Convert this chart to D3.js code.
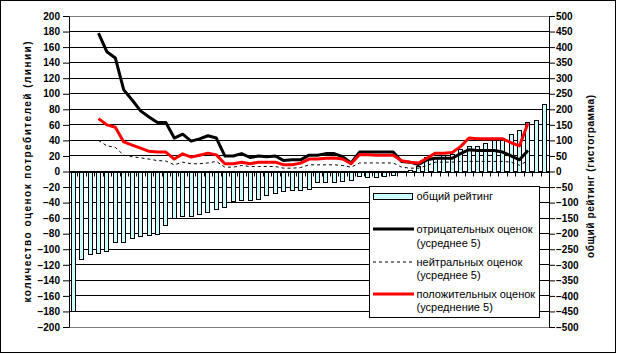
<!DOCTYPE html>
<html>
<head>
<meta charset="utf-8">
<script src="https://cdn.jsdelivr.net/npm/d3@7"></script>
<style>
body { margin: 0; background: #fff; }
text { font-family: "Liberation Sans", Arial, sans-serif; }
</style>
</head>
<body>
<div id="chart"></div>
<script>
// общий рейтинг (правая ось), по каждому объекту
var rejting = [-450, -281, -265, -262, -255, -226, -226, -213, -209, -203, -200, -171, -148, -143, -143, -138,
	-130, -120, -114, -94, -93, -91, -88, -75, -69, -63, -59, -59, -56, -35, -33, -33, -30, -27, -16, -17, -19,
	-15, -11, -3, 4, 19, 47, 42, 54, 57, 72, 81, 83, 91, 102, 102, 121, 134, 160, 166, 218];
// скользящие средние (левая ось)
var otric = [null, null, null, 178, 154, 146, 105, 92, 78, 70, 63, 63, 43, 48, 39, 42, 46, 43, 20, 20, 23, 18,
	20, 19, 20, 14, 15, 15, 21, 21, 23, 23, 19, 11, 25, 25, 25, 25, 25, 13, 12, 9, 15, 17, 17, 17, 23, 28, 27,
	27, 27, 25, 20, 15, 27, null, null];
var neitr = [null, null, null, 40, 33, 31, 21, 19, 17.5, 16, 14, 13.5, 8.6, 12, 10, 10, 11, 13, 5.6, 5.6, 7.7,
	6.4, 6.4, 6.4, 6.4, 4.3, 4.3, 5, 8.6, 8.6, 8.6, 8.6, 7.7, 5.5, 11, 11, 11, 11, 11, 5.6, 4.3, 4.3, 7.7, 12,
	12, 12, 13, 13, 13, 13, 13, 13, 12, 8, 14, null, null];
var polozh = [null, null, null, 68, 60, 57, 38, 34, 30, 26, 25, 25, 16, 22.7, 18.5, 21, 23.6, 21.4, 10, 10, 12,
	10, 12, 12, 12, 8.6, 8.6, 10.8, 16, 16, 17, 17.5, 16, 10, 22, 21.4, 21, 21, 21, 13.7, 12, 10.8, 17, 23.6,
	23.6, 24.4, 32, 43, 42, 42, 42, 42, 37, 33, 62, null, null];
var ticksLeft = d3.range(-200, 201, 20);
var ticksRight = d3.range(-500, 501, 50);

var width = 617, height = 354;
var plot = {left: 69, right: 549, top: 16, bottom: 327};

var svg = d3.select("#chart").append("svg")
	.attr("width", width)
	.attr("height", height);

svg.append("rect")
	.attr("x", 0.5).attr("y", 0.5)
	.attr("width", 615).attr("height", 352)
	.attr("fill", "#fff").attr("stroke", "#000");

var x = d3.scaleBand().domain(d3.range(rejting.length)).range([plot.left, plot.right]);
var yL = d3.scaleLinear().domain([-200, 200]).range([plot.bottom, plot.top]);
var yR = d3.scaleLinear().domain([-500, 500]).range([plot.bottom, plot.top]);
var bw = x.bandwidth();

// сетка
svg.append("g")
	.attr("shape-rendering", "crispEdges")
	.selectAll("line")
	.data(ticksLeft)
	.join("line")
	.attr("x1", plot.left).attr("x2", plot.right)
	.attr("y1", d => yL(d)).attr("y2", d => yL(d))
	.attr("stroke", d => Math.abs(d) == 200 ? "#808080" : "#000");

// гистограмма
var y0 = Math.round(yL(0)) + 0.5;
svg.append("g")
	.attr("shape-rendering", "crispEdges")
	.selectAll("rect")
	.data(rejting)
	.join("rect")
	.attr("x", (d, i) => Math.round(x(i) + bw / 2 - 2.5) + 0.5)
	.attr("y", d => Math.min(Math.round(yR(d)) + 0.5, y0))
	.attr("width", 4)
	.attr("height", d => Math.abs(Math.round(yR(d)) + 0.5 - y0))
	.attr("fill", "#ccffff")
	.attr("stroke", "#000")
	.attr("stroke-width", 1);

// ось категорий
svg.append("line")
	.attr("x1", plot.left).attr("x2", plot.right)
	.attr("y1", y0).attr("y2", y0)
	.attr("stroke", "#000");
svg.append("g")
	.selectAll("line")
	.data(d3.range(rejting.length + 1))
	.join("line")
	.attr("x1", i => Math.round(plot.left + i * bw) + 0.5)
	.attr("x2", i => Math.round(plot.left + i * bw) + 0.5)
	.attr("y1", y0).attr("y2", y0 + 4)
	.attr("stroke", "#000");

// линии
var line = d3.line()
	.defined(d => d != null)
	.x((d, i) => x(i) + bw / 2)
	.y(d => yL(d));

svg.append("path").datum(neitr)
	.attr("d", line).attr("fill", "none")
	.attr("stroke", "#000").attr("stroke-width", 1).attr("stroke-dasharray", "3,3");
svg.append("path").datum(otric)
	.attr("d", line).attr("fill", "none")
	.attr("stroke", "#000").attr("stroke-width", 3).attr("stroke-linejoin", "round");
svg.append("path").datum(polozh)
	.attr("d", line).attr("fill", "none")
	.attr("stroke", "#ff0000").attr("stroke-width", 3).attr("stroke-linejoin", "round");

// оси
var gL = svg.append("g")
	.attr("transform", "translate(" + plot.left + ",0)")
	.call(d3.axisLeft(yL).tickValues(ticksLeft).tickSize(6).tickSizeOuter(0).tickPadding(3));
var gR = svg.append("g")
	.attr("transform", "translate(" + plot.right + ",0)")
	.call(d3.axisRight(yR).tickValues(ticksRight).tickSize(6).tickSizeOuter(0).tickPadding(1));
[gL, gR].forEach(function(g) {
	g.selectAll("text")
		.attr("font-family", "'Liberation Sans', Arial, sans-serif")
		.attr("font-size", 10)
		.attr("font-weight", "bold")
		.attr("fill", "#000");
	g.selectAll("line, path").attr("stroke", "#000");
});

svg.append("text")
	.attr("transform", "translate(27,172) rotate(-90)")
	.attr("text-anchor", "middle")
	.attr("dy", "0.35em")
	.attr("font-size", 10)
	.attr("font-weight", "bold")
	.attr("textLength", 261)
	.attr("lengthAdjust", "spacing")
	.text("количество оценок потребителей (линии)");

svg.append("text")
	.attr("transform", "translate(590.5,176.5) rotate(-90)")
	.attr("text-anchor", "middle")
	.attr("dy", "0.35em")
	.attr("font-size", 10)
	.attr("font-weight", "bold")
	.attr("textLength", 163)
	.attr("lengthAdjust", "spacing")
	.text("общий рейтинг (гистограмма)");

// легенда
var leg = svg.append("g");
leg.append("rect")
	.attr("x", 369.5).attr("y", 186.5)
	.attr("width", 170).attr("height", 131)
	.attr("fill", "#fff").attr("stroke", "#000");
leg.append("rect")
	.attr("x", 373.5).attr("y", 193.5)
	.attr("width", 39).attr("height", 6)
	.attr("fill", "#ccffff").attr("stroke", "#000");

var legLines = [
	{y: 229, color: "#000", w: 3, dash: null},
	{y: 262, color: "#000", w: 1, dash: "3,3"},
	{y: 294, color: "#ff0000", w: 3, dash: null}
];
legLines.forEach(function(l) {
	leg.append("line")
		.attr("x1", 373).attr("x2", 414)
		.attr("y1", l.y).attr("y2", l.y)
		.attr("stroke", l.color).attr("stroke-width", l.w)
		.attr("stroke-dasharray", l.dash);
});

var legTexts = [
	["общий рейтинг", 199.5],
	["отрицательных оценок", 233],
	["(усреднее 5)", 246.5],
	["нейтральных оценок", 265.5],
	["(усреднее 5)", 278.5],
	["положительных оценок", 298],
	["(усреднение 5)", 311]
];
leg.selectAll("text.l")
	.data(legTexts)
	.join("text")
	.attr("class", "l")
	.attr("x", 416.5)
	.attr("y", d => d[1])
	.attr("font-size", 11)
	.attr("fill", "#000")
	.text(d => d[0]);
</script>
</body>
</html>
